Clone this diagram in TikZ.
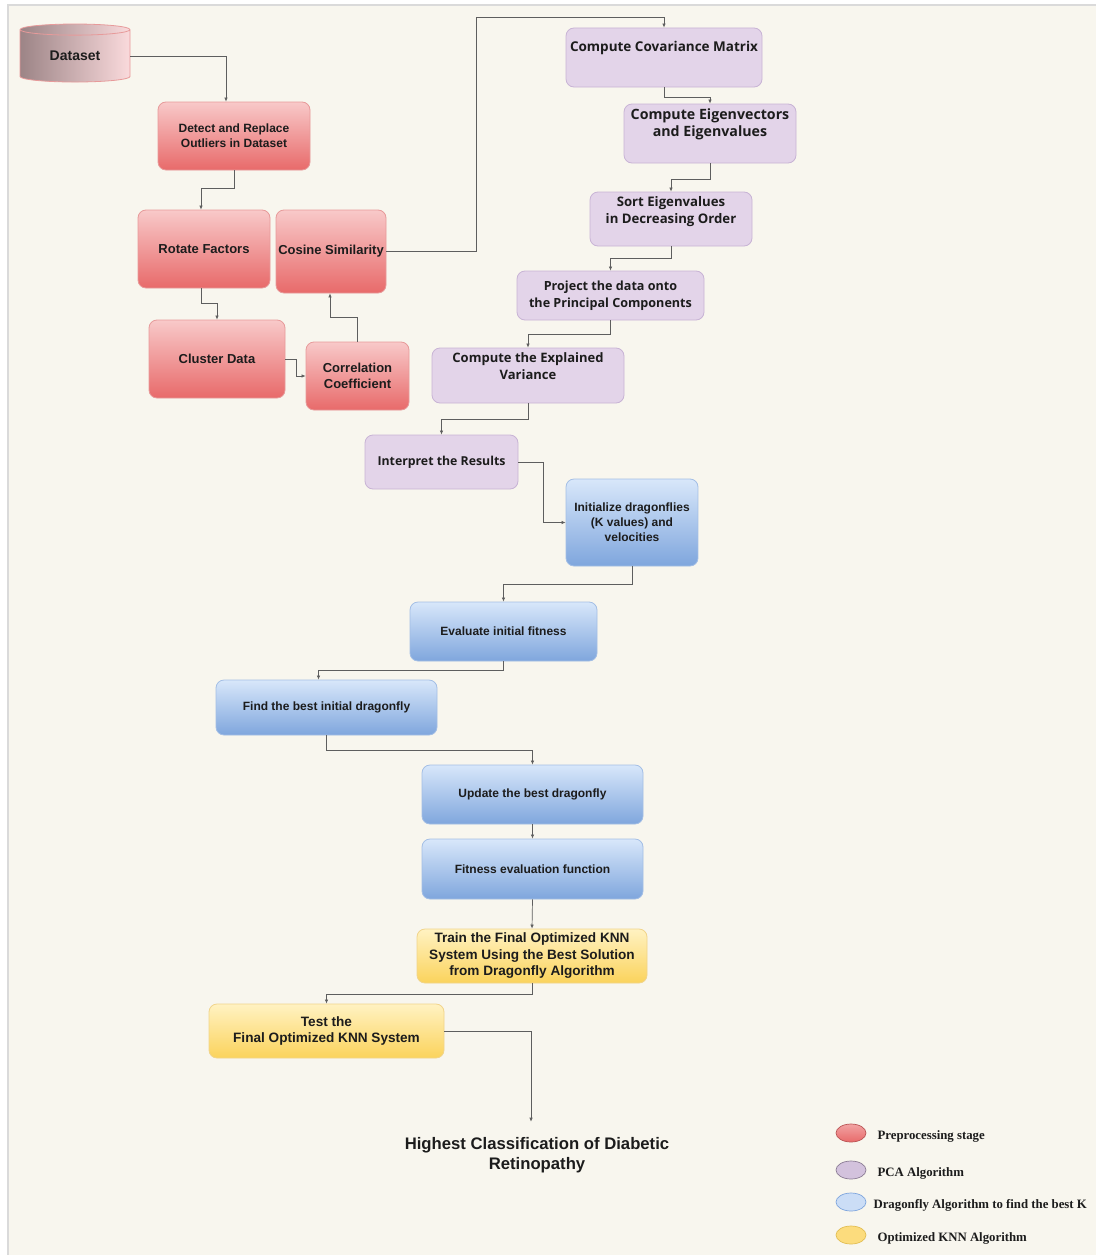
\documentclass[tikz,border=0pt]{standalone}
\usepackage{fontspec}
\setmainfont{Liberation Sans}
\newfontfamily\pcafont{Open Sans}
\newfontfamily\legfont{Liberation Serif}
\usetikzlibrary{arrows.meta,shapes.geometric,positioning}

\definecolor{bgbeige}{HTML}{F8F6EE}
\definecolor{bgline}{HTML}{DADADA}
\definecolor{linkgray}{HTML}{5E5E5E}
\definecolor{txtdark}{HTML}{1C1C1C}
\definecolor{pretop}{HTML}{F8C9C9}
\definecolor{prebot}{HTML}{E86A6A}
\definecolor{preline}{HTML}{E79A9A}
\definecolor{dbleft}{HTML}{9C8486}
\definecolor{dbright}{HTML}{FADADC}
\definecolor{pcafill}{HTML}{E3D4E9}
\definecolor{pcaline}{HTML}{C8B3D5}
\definecolor{datop}{HTML}{D8E7FA}
\definecolor{dabot}{HTML}{7FA6DD}
\definecolor{daline}{HTML}{A3BEE5}
\definecolor{knntop}{HTML}{FFF2C2}
\definecolor{knnbot}{HTML}{FBD35C}
\definecolor{knnline}{HTML}{F1D48A}

\newcommand{\pcasize}[1]{\pcafont\bfseries\fontsize{#1}{17}\selectfont}

\tikzset{
  box/.style={rounded corners=8pt, line width=0.8pt, align=center, text=txtdark,
    inner sep=2pt, font=\bfseries\fontsize{13}{16}\selectfont},
  prebox/.style={box, draw=preline, top color=pretop, bottom color=prebot},
  pcabox/.style={box, draw=pcaline, fill=pcafill, font=\pcasize{12.5}},
  dabox/.style={box, draw=daline, top color=datop, bottom color=dabot, font=\bfseries\fontsize{12}{15}\selectfont},
  knnbox/.style={box, draw=knnline, top color=knntop, bottom color=knnbot, font=\bfseries\fontsize{13.6}{16.5}\selectfont},
  link/.style={draw=linkgray, line width=0.7pt, -{Latex[length=4pt,width=3.5pt]}},
  legdot/.style={ellipse, minimum width=30pt, minimum height=18pt, inner sep=0pt, line width=0.7pt},
  legtext/.style={font=\legfont\bfseries\fontsize{12.8}{14}\selectfont, text=txtdark, inner sep=0pt},
}

\begin{document}
\begin{tikzpicture}[x=1pt, y=-1pt]
    \useasboundingbox (0,0) rectangle (1096,1255);
    \fill[white] (0,0) rectangle (1096,1255);
    \fill[bgbeige] (8,5) rectangle (1096,1255);
    \draw[bgline, line width=1.5pt] (8,1255) -- (8,5) -- (1096,5);

    % preprocessing
    \node[cylinder, shape border rotate=90, aspect=0.22, draw=preline, line width=0.8pt,
      left color=dbleft, right color=dbright, minimum width=110pt, minimum height=58pt,
      inner sep=0pt, text=txtdark, font=\bfseries\fontsize{14}{16}\selectfont] (data) at (75,56) {Dataset};
    \node[prebox, minimum width=152pt, minimum height=68pt, font=\bfseries\fontsize{12}{15}\selectfont] (detect) at (234,136) {Detect and Replace\\Outliers in Dataset};
    \node[prebox, minimum width=132pt, minimum height=78pt] (rotate) at (204,249) {Rotate Factors};
    \node[prebox, minimum width=110pt, minimum height=83pt] (cosine) at (331,251.5) {Cosine Similarity};
    \node[prebox, minimum width=136pt, minimum height=78pt] (cluster) at (217,359) {Cluster Data};
    \node[prebox, minimum width=103pt, minimum height=68pt] (corr) at (357.5,376) {Correlation\\Coefficient};

    % PCA
    \node[pcabox, minimum width=196pt, minimum height=59pt, text depth=22pt, font=\pcasize{13.5}] (cov) at (664,57.5) {Compute Covariance Matrix};
    \node[pcabox, minimum width=172pt, minimum height=59pt, text depth=21pt, font=\pcasize{14.2}] (eigen) at (710,133.5) {Compute Eigenvectors\\and Eigenvalues};
    \node[pcabox, minimum width=162pt, minimum height=54pt, text depth=18pt, font=\pcasize{13.2}] (sort) at (671,219) {Sort Eigenvalues\\in Decreasing Order};
    \node[pcabox, minimum width=187pt, minimum height=49pt, font=\pcasize{12.6}] (project) at (610.5,295.5) {Project the data onto\\the Principal Components};
    \node[pcabox, minimum width=192pt, minimum height=55pt, text depth=18pt, font=\pcasize{13}] (explained) at (528,375.5) {Compute the Explained\\Variance};
    \node[pcabox, minimum width=153pt, minimum height=54pt, font=\pcasize{12.3}] (interpret) at (441.5,462) {Interpret the Results};

    % dragonfly
    \node[dabox, minimum width=132pt, minimum height=87pt] (init) at (632,522.5) {Initialize dragonflies\\(K values) and\\velocities};
    \node[dabox, minimum width=187pt, minimum height=59pt] (evaluate) at (503.5,631.5) {Evaluate initial fitness};
    \node[dabox, minimum width=221pt, minimum height=55pt] (best) at (326.5,707.5) {Find the best initial dragonfly};
    \node[dabox, minimum width=221pt, minimum height=59pt] (update) at (532.5,794.5) {Update the best dragonfly};
    \node[dabox, minimum width=221pt, minimum height=60pt] (fitness) at (532.5,869) {Fitness evaluation function};

    % KNN
    \node[knnbox, minimum width=230pt, minimum height=54pt] (train) at (532,956) {Train the Final Optimized KNN\\System Using the Best Solution\\from Dragonfly Algorithm};
    \node[knnbox, minimum width=235pt, minimum height=54pt] (test) at (326.5,1031) {Test the\\Final Optimized KNN System};
    \node[align=center, text=txtdark, font=\bfseries\fontsize{16.7}{20}\selectfont] (result) at (537,1155) {Highest Classification of Diabetic\\Retinopathy};

    % connectors
    \draw[link] (data.east) -| ([xshift=-8pt]detect.north);
    \draw[link] (detect.south) -- ++(0,18) -| ([xshift=-3pt]rotate.north);
    \draw[link] ([xshift=-3pt]rotate.south) -- ++(0,15) -| (cluster.north);
    \draw[link] (cluster.east) -- ++(11,0) |- (corr.west);
    \draw[link] (corr.north) -- ++(0,-24) -| ([xshift=-1pt]cosine.south);
    \draw[link] (cosine.east) -- ++(90,0) |- ([yshift=10pt]cov.north) -- (cov.north);
    \draw[link] (cov.south) -- ++(0,10) -| (eigen.north);
    \draw[link] (eigen.south) -- ++(0,16) -| (sort.north);
    \draw[link] (sort.south) -- ++(0,12) -| (project.north);
    \draw[link] (project.south) -- ++(0,14) -| (explained.north);
    \draw[link] (explained.south) -- ++(0,16) -| (interpret.north);
    \draw[link] (interpret.east) -- ++(25,0) |- (init.west);
    \draw[link] (init.south) -- ++(0,18) -| (evaluate.north);
    \draw[link] (evaluate.south) -- ++(0,9) -| ([xshift=-8pt]best.north);
    \draw[link] (best.south) -- ++(0,15) -| (update.north);
    \draw[link] (update.south) -- (fitness.north);
    \draw[link] (fitness.south) -- (train.north);
    \draw[link] (train.south) -- ++(0,11) -| (test.north);
    \draw[link] (test.east) -| ([xshift=-6pt,yshift=12pt]result.north);

    % legend
    \node[legdot, draw=prebot!80!black, top color=pretop!60!prebot, bottom color=prebot] (legpre) at (851,1133) {};
    \node[legdot, draw=pcaline!70!black, fill=pcaline!80!white] (legpca) at (851,1170) {};
    \node[legdot, draw=dabot, fill=datop!85!dabot] (legda) at (851,1202) {};
    \node[legdot, draw=knnbot!90!black, fill=knnbot!80!white] (legknn) at (851,1235) {};
    \node[legtext, right=11pt of legpre, yshift=-3pt] {Preprocessing stage};
    \node[legtext, right=11pt of legpca, yshift=-3pt] {PCA Algorithm};
    \node[legtext, right=7pt of legda, yshift=-3pt] {Dragonfly Algorithm to find the best K};
    \node[legtext, right=11pt of legknn, yshift=-3pt] {Optimized KNN Algorithm};
\end{tikzpicture}
\end{document}
